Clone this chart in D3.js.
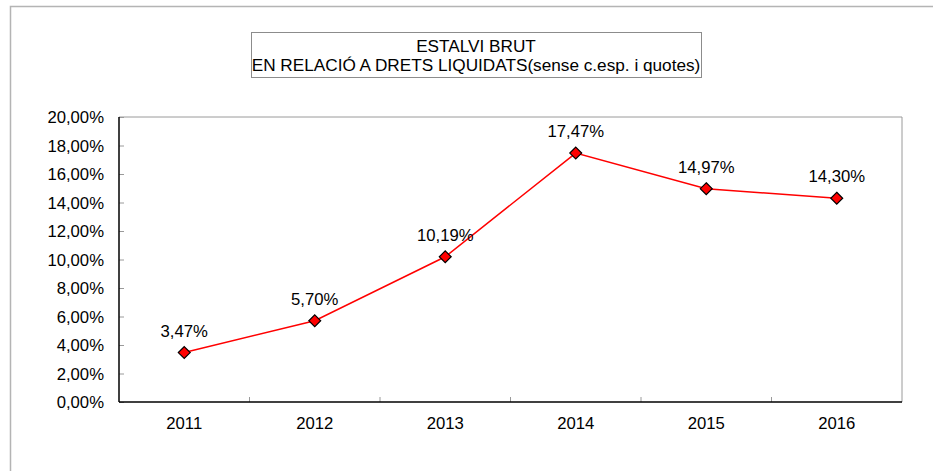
<!DOCTYPE html>
<html>
<head>
<meta charset="utf-8">
<script src="https://cdn.jsdelivr.net/npm/d3@7"></script>
<style>
	html, body { margin: 0; padding: 0; background: #fff; }
	svg { display: block; font-family: Arial, "Liberation Sans", sans-serif; }
</style>
</head>
<body>
<div id="chart-holder"></div>
<script>
const years = ['2011', '2012', '2013', '2014', '2015', '2016'];
const estalvi = [3.47, 5.70, 10.19, 17.47, 14.97, 14.30];
const yTicks = [0, 2, 4, 6, 8, 10, 12, 14, 16, 18, 20];
const titleLines = ['ESTALVI BRUT', 'EN RELACIÓ A DRETS LIQUIDATS(sense c.esp. i quotes)'];

const width = 933;
const height = 471;
let margin = {top: 117, right: 31, bottom: 69, left: 119};

const fmt = v => v.toFixed(2).replace('.', ',') + '%';

const svg = d3.select('#chart-holder').append('svg')
	.attr('width', width)
	.attr('height', height);

// outer frame (runs off right/bottom)
svg.append('path')
	.attr('d', 'M10.5,' + height + 'V6.5H' + width)
	.attr('fill', 'none')
	.attr('stroke', '#b4b4b4')
	.attr('stroke-width', 1.5);

// title box
svg.append('rect')
	.attr('x', 251.5).attr('y', 32.5)
	.attr('width', 450).attr('height', 45)
	.attr('fill', '#fff')
	.attr('stroke', '#8c8c8c');

svg.selectAll('.title').data(titleLines)
	.enter().append('text')
	.attr('class', 'title')
	.attr('x', 476)
	.attr('y', (d, i) => 52 + i * 19)
	.attr('text-anchor', 'middle')
	.attr('font-size', '17.2px')
	.attr('fill', '#000')
	.text(d => d);

const plotW = width - margin.left - margin.right;
const plotH = height - margin.top - margin.bottom;

const g = svg.append('g')
	.attr('transform', 'translate(' + margin.left + ',' + margin.top + ')');

const xScale = d3.scaleBand()
	.domain(years)
	.range([0, plotW]);

const yScale = d3.scaleLinear()
	.domain([0, 20])
	.range([plotH, 0]);

// plot frame: gray top/right, black left/bottom
g.append('path')
	.attr('d', 'M0,0H' + plotW + 'V' + plotH)
	.attr('fill', 'none')
	.attr('stroke', '#9a9a9a');

// y axis
const yAxis = d3.axisRight(yScale)
	.tickValues(yTicks)
	.tickSize(5)
	.tickFormat('');
const yAxisG = g.append('g').attr('class', 'y-axis').call(yAxis);
yAxisG.select('.domain').remove();
yAxisG.selectAll('.tick line').attr('stroke', '#9a9a9a');

g.selectAll('.y-label').data(yTicks)
	.enter().append('text')
	.attr('class', 'y-label')
	.attr('x', -15)
	.attr('y', d => yScale(d))
	.attr('dy', '0.36em')
	.attr('text-anchor', 'end')
	.attr('font-size', '16.7px')
	.text(d => fmt(d));

// x axis ticks at category boundaries
const bounds = years.map(y => xScale(y)).concat([plotW]);
g.selectAll('.x-tick').data(bounds.slice(1, -1))
	.enter().append('line')
	.attr('class', 'x-tick')
	.attr('x1', d => d).attr('x2', d => d)
	.attr('y1', plotH).attr('y2', plotH - 5)
	.attr('stroke', '#9a9a9a');

g.selectAll('.x-label').data(years)
	.enter().append('text')
	.attr('class', 'x-label')
	.attr('x', d => xScale(d) + xScale.bandwidth() / 2)
	.attr('y', plotH + 27)
	.attr('text-anchor', 'middle')
	.attr('font-size', '16.7px')
	.text(d => d);

g.append('line')
	.attr('x1', 0).attr('x2', 0)
	.attr('y1', 0).attr('y2', plotH)
	.attr('stroke', '#000').attr('stroke-width', 1.5);
g.append('line')
	.attr('x1', 0).attr('x2', plotW)
	.attr('y1', plotH).attr('y2', plotH)
	.attr('stroke', '#000').attr('stroke-width', 1.5);

// series
const data = years.map((y, i) => ({year: y, value: estalvi[i]}));
const cx = d => xScale(d.year) + xScale.bandwidth() / 2;

const line = d3.line()
	.x(cx)
	.y(d => yScale(d.value));

g.append('path')
	.datum(data)
	.attr('d', line)
	.attr('fill', 'none')
	.attr('stroke', '#ff0000')
	.attr('stroke-width', 1.5);

const diamond = d3.symbol().type(d3.symbolDiamond2).size(90);
g.selectAll('.marker').data(data)
	.enter().append('path')
	.attr('class', 'marker')
	.attr('d', diamond)
	.attr('transform', d => 'translate(' + cx(d) + ',' + yScale(d.value) + ')')
	.attr('fill', '#ff0000')
	.attr('stroke', '#000')
	.attr('stroke-width', 1.2);

g.selectAll('.value-label').data(data)
	.enter().append('text')
	.attr('class', 'value-label')
	.attr('x', cx)
	.attr('y', d => yScale(d.value) - 16)
	.attr('text-anchor', 'middle')
	.attr('font-size', '16.7px')
	.text(d => fmt(d.value));
</script>
</body>
</html>
